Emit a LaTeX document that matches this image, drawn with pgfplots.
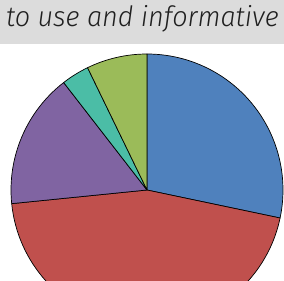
\documentclass[border=0pt]{standalone}
\usepackage{fontspec}
\newfontfamily\tfont{Fira Sans}[ItalicFont={Fira Sans Light Italic}, ItalicFeatures={FakeStretch=0.965}]
\usepackage{pgfplots}
\usepackage{pgfplotstable}
\pgfplotsset{compat=1.18}
\definecolor{pblue}{HTML}{4F81BD}
\definecolor{pred}{HTML}{C0504D}
\definecolor{ppurple}{HTML}{8064A2}
\definecolor{pteal}{HTML}{4BBDA6}
\definecolor{pgreen}{HTML}{9BBB59}
\definecolor{tgray}{HTML}{DCDCDC}
\pgfplotstableread{
value color
28.3 pblue
45.1 pred
16.1 ppurple
3.3 pteal
7.2 pgreen
}\piedata
\begin{document}
\begin{tikzpicture}[x=1pt,y=1pt]
\useasboundingbox (0,0) rectangle (284,281);
\clip (0,0) rectangle (284,281);
\fill[white] (0,0) rectangle (284,281);
\fill[tgray] (0,237) rectangle (284,281);
\node[anchor=base west, inner sep=0pt, font=\tfont\itshape\fontsize{28}{32}\selectfont, text=black!88] at (6,254) {to use and informative};
\begin{axis}[hide axis, scale only axis, width=272pt, height=272pt,
  xmin=-136, xmax=136, ymin=-136, ymax=136, anchor=center, at={(147,91)},
  clip=false]
\def\cumangle{90}
\pgfplotsforeachungrouped \i in {0,...,4}{%
  \pgfplotstablegetelem{\i}{value}\of\piedata \let\v\pgfplotsretval
  \pgfplotstablegetelem{\i}{color}\of\piedata \let\c\pgfplotsretval
  \pgfmathsetmacro\endangle{\cumangle-3.6*\v}%
  \edef\temp{\noexpand\filldraw[fill=\c, draw=black, line width=0.7pt, line join=round] (axis cs:0,0) -- ++(\cumangle:136pt) arc[start angle=\cumangle, end angle=\endangle, radius=136pt] -- cycle;}%
  \temp
  \global\let\cumangle\endangle
}
\end{axis}
\end{tikzpicture}
\end{document}
